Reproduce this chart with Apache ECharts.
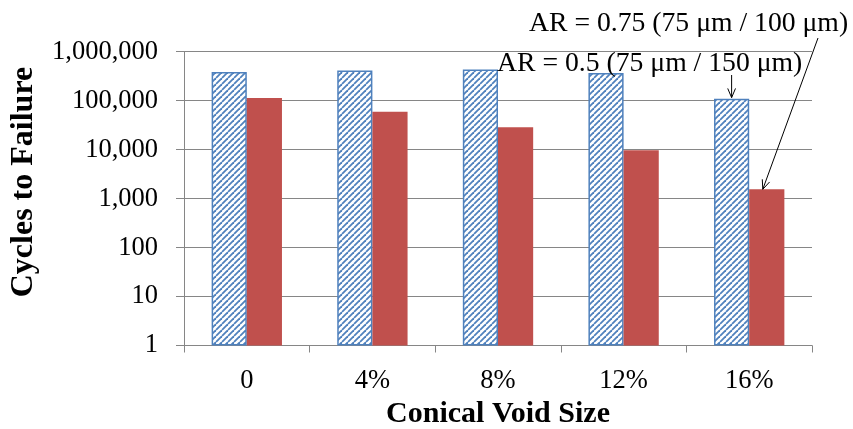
<!DOCTYPE html>
<html><head><meta charset="utf-8">
<script src="https://cdn.jsdelivr.net/npm/echarts@6/dist/echarts.min.js"></script>
<style>html,body{margin:0;padding:0;background:#fff}#c{width:853px;height:429px}</style>
</head><body><div id="c"></div>
<script>
const categories = ['0', '4%', '8%', '12%', '16%'];
const seriesNames = ['AR = 0.75 (75 μm / 100 μm)', 'AR = 0.5 (75 μm / 150 μm)'];
const ar075 = [387000, 413000, 434000, 369000, 110000];
const ar05 = [113000, 59300, 28600, 9700, 1550];
const yMin = 1, yMax = 1000000;
const xTitle = 'Conical Void Size';
const yTitle = 'Cycles to Failure';

const FONT = '"Liberation Serif", "Times New Roman", serif';
const BLUE = '#4f81bd';
const RED = '#c0504d';

// hatch pattern
const pc = document.createElement('canvas');
const P = 6;
pc.width = P; pc.height = P;
const pctx = pc.getContext('2d');
pctx.fillStyle = '#fff'; pctx.fillRect(0, 0, P, P);
pctx.strokeStyle = BLUE; pctx.lineWidth = 1.8;
for (const k of [-P, 0, P]) { pctx.beginPath(); pctx.moveTo(k, P); pctx.lineTo(k + P, 0); pctx.stroke(); }

const chart = echarts.init(document.getElementById('c'), null, {renderer: 'canvas'});
const option = {
  animation: false,
  grid: {left: 184, right: 41, top: 51.7, bottom: 83.5, containLabel: false, outerBoundsMode: 'none'},
  xAxis: {
    type: 'category', data: categories,
    axisLine: {lineStyle: {color: '#868686', width: 1}},
    axisTick: {show: true, length: 7, lineStyle: {color: '#868686'}},
    axisLabel: {fontFamily: FONT, fontSize: 26.5, color: '#000', margin: 22},
    name: xTitle, nameLocation: 'middle', nameGap: 51,
    nameTextStyle: {fontFamily: FONT, fontSize: 30, fontWeight: 'bold', color: '#000'}
  },
  yAxis: {
    type: 'log', logBase: 10, min: yMin, max: yMax,
    axisLine: {show: true, lineStyle: {color: '#868686', width: 1}},
    axisTick: {show: true, inside: false, length: 8, lineStyle: {color: '#868686'}},
    splitLine: {show: true, lineStyle: {color: '#868686', width: 1}},
    minorTick: {show: false}, minorSplitLine: {show: false},
    axisLabel: {fontFamily: FONT, fontSize: 26.5, color: '#000', margin: 26,
      formatter: v => Math.round(v).toLocaleString('en-US')}
  },
  series: [
    {name: seriesNames[0], type: 'bar', data: ar075, barGap: '0%', barCategoryGap: '44%',
      itemStyle: {color: {image: pc, repeat: 'repeat'}, borderColor: BLUE, borderWidth: 1.5}},
    {name: seriesNames[1], type: 'bar', data: ar05, barGap: '0%', barCategoryGap: '44%',
      itemStyle: {color: RED}}
  ]
};
chart.setOption(option);

// annotations
const barW = (chart.convertToPixel({xAxisIndex: 0}, categories[1]) - chart.convertToPixel({xAxisIndex: 0}, categories[0])) * 0.56 / 2;
const cx = chart.convertToPixel({xAxisIndex: 0}, categories[4]);
const blueTopY = chart.convertToPixel({yAxisIndex: 0}, ar075[4]);
const redTopY = chart.convertToPixel({yAxisIndex: 0}, ar05[4]);
const tip1 = [cx - barW / 2, blueTopY - 1];
const start1 = [tip1[0], 75];
const tip2 = [cx + barW / 2 - 4, redTopY];
const start2 = [818, 38];

function arrow(s, t) {
  const ang = Math.atan2(t[1] - s[1], t[0] - s[0]);
  const L = 10, a = 0.4;
  const p1 = [t[0] - L * Math.cos(ang - a), t[1] - L * Math.sin(ang - a)];
  const p2 = [t[0] - L * Math.cos(ang + a), t[1] - L * Math.sin(ang + a)];
  return [
    {type: 'line', shape: {x1: s[0], y1: s[1], x2: t[0], y2: t[1]}, style: {stroke: '#000', lineWidth: 1}, z: 100},
    {type: 'polyline', shape: {points: [p1, t, p2]}, style: {stroke: '#000', lineWidth: 1, fill: null}, z: 100}
  ];
}

chart.setOption({
  graphic: [
    {type: 'text', x: 24, y: 182, rotation: Math.PI / 2,
      style: {text: yTitle, font: 'bold 32px ' + FONT, fill: '#000', align: 'center', verticalAlign: 'middle'}},
    {type: 'text', x: 529, y: 9.5,
      style: {text: seriesNames[0], font: '27.7px ' + FONT, fill: '#000', align: 'left', verticalAlign: 'top'}, z: 100},
    {type: 'text', x: 497, y: 49.5,
      style: {text: seriesNames[1], font: '27.7px ' + FONT, fill: '#000', align: 'left', verticalAlign: 'top'}, z: 100},
    ...arrow(start1, tip1),
    ...arrow(start2, tip2)
  ]
});
</script></body></html>
